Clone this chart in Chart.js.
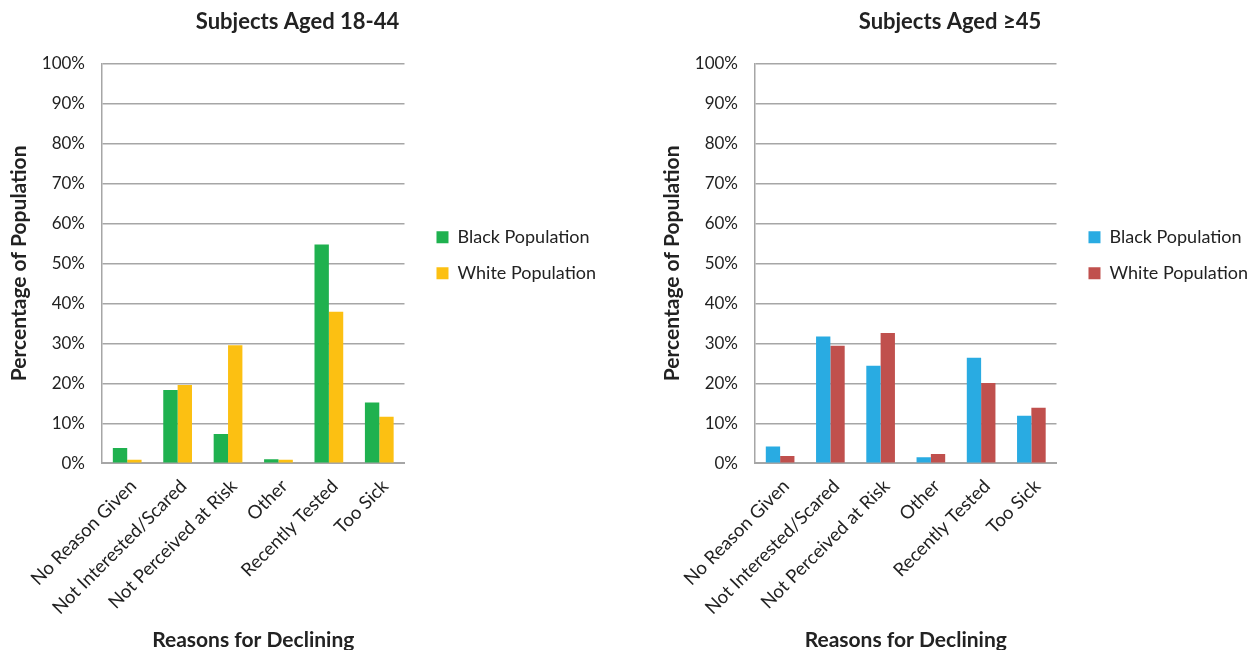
<!DOCTYPE html>
<html>
<head>
<meta charset="utf-8">
<script src="https://cdn.jsdelivr.net/npm/chart.js@4"></script>
<style>
  body { margin: 0; background: #fff; overflow: hidden; }
  #wrap { position: relative; width: 1250px; height: 650px; }
  .box { position: absolute; top: 0; height: 650px; }
</style>
</head>
<body>
<div id="wrap">
  <div class="box" style="left:0;width:598px"><canvas id="youngChart"></canvas></div>
  <div class="box" style="left:653px;width:597px"><canvas id="oldChart"></canvas></div>
</div>
<script>
// reasons on the x axis, shared by both panels
var reasons = ["No Reason Given", "Not Interested/Scared", "Not Perceived at Risk", "Other", "Recently Tested", "Too Sick"];
var seriesNames = ["Black Population", "White Population"];

// subjects aged 18-44 (% of population)
var youngBlack = [3.8, 18.3, 7.3, 1.0, 54.7, 15.2];
var youngWhite = [0.9, 19.6, 29.5, 0.9, 37.9, 11.6];

// subjects aged >=45
var oldBlack = [4.2, 31.7, 24.4, 1.5, 26.4, 11.9];
var oldWhite = [1.8, 29.4, 32.6, 2.3, 20.1, 13.9];

var yTicks = [0, 10, 20, 30, 40, 50, 60, 70, 80, 90, 100];

var FONT = "Lato, 'Open Sans', sans-serif";
var GAP = 14; // extra space between plot and legend

// move the legend: a bit to the right, and centred on the plot instead of the whole height
var legendShift = {
  id: "legendShift",
  afterLayout: function (chart) {
    var lg = chart.legend, area = chart.chartArea;
    lg.left += GAP;
    lg.right += GAP;
    var dy = (area.top + area.bottom) / 2 - 8 - (lg.top + lg.bottom) / 2;
    lg.top += dy;
    lg.bottom += dy;
  }
};

function makeChart(id, title, black, white, colors) {
  var ctx = document.getElementById(id).getContext("2d");
  return new Chart(ctx, {
    type: "bar",
    data: {
      labels: reasons,
      datasets: [
        { label: seriesNames[0], data: black, backgroundColor: colors[0] },
        { label: seriesNames[1], data: white, backgroundColor: colors[1] }
      ]
    },
    plugins: [legendShift],
    options: {
      responsive: true,
      maintainAspectRatio: false,
      animation: false,
      categoryPercentage: 0.57,
      barPercentage: 1.0,
      layout: { padding: { top: 8, left: 3, right: 6, bottom: -3 } },
      plugins: {
        title: {
          display: true,
          text: title,
          color: "#222",
          font: { family: FONT, size: 22, weight: "bold" },
          padding: { top: 1, bottom: 28 }
        },
        legend: {
          position: "right",
          align: "center",
          maxWidth: 260,
          labels: {
            color: "#222",
            font: { family: FONT, size: 18 },
            boxWidth: 12,
            boxHeight: 12,
            padding: 18
          }
        },
        tooltip: { enabled: false }
      },
      scales: {
        x: {
          grid: { display: false, drawTicks: false },
          border: { color: "#a6a6a6", width: 2 },
          ticks: {
            color: "#222",
            font: { family: FONT, size: 18.5 },
            maxRotation: 45,
            minRotation: 45,
            padding: 12,
            labelOffset: 6
          },
          // the rotated first label may hang left of the plot, as in the original
          afterFit: function (axis) {
            axis.paddingLeft = 0;
            axis.paddingRight = 0;
          },
          title: {
            display: true,
            text: "Reasons for Declining",
            color: "#222",
            font: { family: FONT, size: 21, weight: "bold" },
            padding: { top: -3, bottom: 0 }
          }
        },
        y: {
          min: 0,
          max: 100,
          afterBuildTicks: function (axis) {
            axis.ticks = yTicks.map(function (v) { return { value: v }; });
          },
          afterFit: function (axis) {
            axis.width = 99;
          },
          grid: { color: "#a6a6a6", lineWidth: 1.5, drawTicks: false },
          border: { color: "#a6a6a6", width: 1.5 },
          ticks: {
            color: "#222",
            font: { family: FONT, size: 17 },
            padding: 17,
            callback: function (v) { return v + "%"; }
          },
          title: {
            display: true,
            text: "Percentage of Population",
            color: "#222",
            font: { family: FONT, size: 21, weight: "bold" },
            padding: { top: 4, bottom: 4 }
          }
        }
      }
    }
  });
}

makeChart("youngChart", "Subjects Aged 18-44", youngBlack, youngWhite, ["#1fb14f", "#fcc012"]);
makeChart("oldChart", "Subjects Aged \u226545", oldBlack, oldWhite, ["#29abe2", "#c0504d"]);
</script>
</body>
</html>
